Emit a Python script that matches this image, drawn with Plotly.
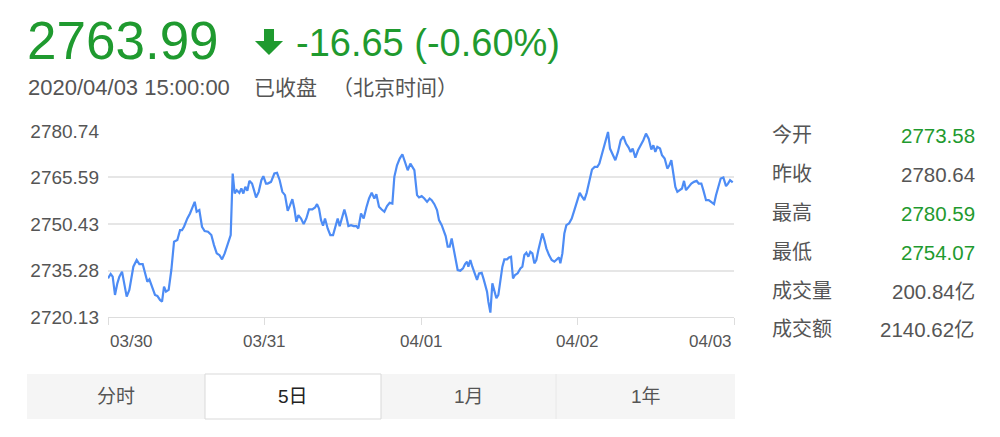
import plotly.graph_objects as go

# ── Data ───────────────────────────────────────────────────────────────────
# trading minutes across the 5-day window (240 per session) and index level
MINUTES = [
    0, 5.1, 9.0, 13.4, 17.9, 21.8, 26.9, 30.7, 35.8, 40.9,
    48.6, 55.0, 60.1, 66.5, 72.9, 75.4, 79.3, 85.7, 90.1, 94.6,
    99.7, 103.6, 107.4, 111.2, 116.3, 121.4, 126.6, 132.9, 138.1, 141.9,
    145.7, 152.1, 157.2, 162.3, 166.2, 170.0, 175.1, 180.2, 185.3, 191.7,
    198.1, 203.2, 208.4, 213.5, 218.6, 223.7, 230.1, 235.2, 239.0, 242.9,
    246.7, 251.8, 255.6, 259.5, 263.3, 267.1, 271.0, 276.1, 279.9, 283.8,
    288.9, 294.0, 297.8, 302.9,
    306.1, 312.5, 318.9, 324.0, 329.1, 334.2, 339.3, 344.5, 348.3, 353.4,
    357.2, 361.1, 364.9, 370.0, 375.1, 380.2, 385.3, 391.7, 396.9, 400.7,
    404.5, 408.4, 412.2, 416.0, 421.1, 426.2, 431.4, 435.2, 440.3, 444.1,
    449.2, 453.1, 456.9, 460.8, 465.9, 471.0, 476.1, 479.9, 485.0, 490.1,
    495.3, 500.4, 505.5, 510.6, 514.4, 519.5, 524.7, 529.8, 534.9, 540.0,
    545.1, 548.9, 554.0, 559.2, 564.3, 569.4, 574.5, 579.6, 583.4, 587.3,
    592.4, 596.2, 601.3, 606.4, 611.6,
    616.6, 620.5, 625.6, 630.7, 634.5, 639.7, 643.5, 647.3, 651.2, 655.0,
    658.8, 662.7, 666.5, 670.3, 675.4, 680.5, 684.4, 688.2, 690.8, 694.6,
    698.4, 702.3, 707.4, 711.2, 716.3, 720.2, 724.0, 726.6, 729.1, 733.0,
    736.8, 740.6, 744.5, 748.3, 752.1, 756.0, 759.8, 764.9, 768.7, 772.6,
    776.4, 780.2, 785.3, 790.5, 794.3, 798.1, 802.0, 805.8, 809.6, 813.5,
    817.3, 821.1, 825.0, 828.8, 832.6, 836.5, 840.3, 845.4, 850.5, 855.6,
    860.7, 864.6, 867.1, 871.0, 874.8, 878.6, 883.7, 888.9, 894.0, 899.1,
    904.2, 908.0, 913.1,
    917.6, 922.7, 927.8, 932.9, 938.0, 941.9, 947.0, 952.1, 955.9, 958.5,
    962.3, 967.4, 972.5, 977.6, 982.8, 987.9, 993.0, 998.1, 1001.9, 1005.8,
    1010.9, 1016.0, 1021.1, 1026.2, 1031.3, 1036.4, 1041.5, 1045.4, 1049.2, 1053.0,
    1058.2, 1062.0, 1067.1, 1072.2, 1076.1, 1079.9, 1083.7, 1087.6, 1091.4, 1096.5,
    1100.3, 1104.2, 1108.0, 1113.1, 1118.2, 1123.3, 1128.4, 1132.3, 1137.4, 1141.2,
    1146.4, 1151.5, 1156.6, 1161.7, 1165.5, 1170.6, 1174.5, 1179.6, 1184.7, 1188.5,
    1192.4, 1197.5,
]

PRICES = [
    2732.73, 2734.14, 2733.27, 2727.31, 2731.10, 2733.27, 2734.90, 2731.10, 2726.77, 2728.94,
    2736.52, 2738.69, 2737.39, 2737.39, 2733.27, 2731.65, 2732.40, 2729.48, 2727.31, 2726.98,
    2725.68, 2725.14, 2730.02, 2728.39, 2728.94, 2735.44, 2744.65, 2745.20, 2748.45, 2748.45,
    2749.53, 2752.24, 2753.87, 2756.04, 2757.66, 2754.41, 2754.95, 2749.53, 2748.12, 2747.91,
    2746.82, 2743.57, 2740.86, 2740.32, 2738.91, 2740.86, 2744.65, 2746.82, 2766.88, 2760.37,
    2761.46, 2760.59, 2762.00, 2760.37, 2762.54, 2761.24, 2764.49, 2763.62, 2761.46, 2759.07,
    2760.91, 2764.71, 2766.01, 2763.62,
    2763.62, 2764.17, 2766.88, 2767.09, 2764.71, 2760.91, 2759.83, 2754.74, 2756.25, 2758.53,
    2755.49, 2751.16, 2753.33, 2752.24, 2750.40, 2752.24, 2755.17, 2755.17, 2755.82, 2756.90,
    2755.49, 2751.70, 2749.86, 2752.24, 2748.99, 2746.82, 2746.82, 2748.99, 2752.24, 2749.75,
    2752.78, 2755.17, 2752.78, 2749.75, 2750.07, 2749.75, 2749.75, 2748.99, 2753.87, 2752.24,
    2755.82, 2758.75, 2760.59, 2758.75, 2760.16, 2756.04, 2755.17, 2754.41, 2756.25, 2757.34,
    2757.12, 2765.79, 2769.59, 2771.75, 2773.16, 2770.13, 2767.96, 2770.13, 2769.26, 2767.96,
    2759.83, 2759.07, 2759.50, 2758.75, 2757.66,
    2758.75, 2758.20, 2756.90, 2754.95, 2751.70, 2750.07, 2747.91, 2746.50, 2743.03, 2743.03,
    2745.74, 2742.49, 2738.69, 2735.44, 2735.22, 2735.98, 2737.39, 2738.15, 2736.52, 2738.69,
    2736.52, 2734.90, 2732.19, 2734.36, 2734.57, 2732.40, 2729.48, 2728.39, 2725.14, 2721.56,
    2731.10, 2728.94, 2726.23, 2727.31, 2732.19, 2736.52, 2738.91, 2738.91, 2739.56, 2739.78,
    2732.73, 2733.81, 2734.36, 2735.98, 2736.52, 2740.32, 2741.08, 2739.78, 2741.40, 2740.86,
    2737.61, 2738.69, 2741.94, 2745.20, 2747.36, 2745.20, 2742.49, 2740.32, 2738.69, 2738.15,
    2738.91, 2739.56, 2737.61, 2740.86, 2747.36, 2750.07, 2750.62, 2752.24, 2754.95, 2757.66,
    2760.59, 2759.50, 2758.20,
    2760.59, 2764.71, 2768.18, 2769.04, 2769.04, 2770.13, 2773.38, 2775.76, 2778.26, 2780.43,
    2775.01, 2772.84, 2771.21, 2773.92, 2777.72, 2779.02, 2776.63, 2775.33, 2773.92, 2775.01,
    2772.08, 2774.46, 2776.09, 2777.72, 2779.88, 2778.26, 2774.68, 2776.09, 2773.92, 2775.55,
    2775.01, 2772.84, 2771.75, 2768.50, 2769.59, 2771.21, 2766.88, 2762.54, 2760.91, 2761.46,
    2762.00, 2764.49, 2761.46, 2762.54, 2763.62, 2764.17, 2764.49, 2763.62, 2763.62, 2761.46,
    2758.20, 2758.20, 2757.66, 2756.90, 2759.83, 2762.54, 2765.25, 2765.58, 2762.76, 2763.62,
    2764.71, 2763.99,
]
assert len(MINUTES) == len(PRICES)

Y_TICKS = [2720.13, 2735.28, 2750.43, 2765.59, 2780.74]
X_TICKS = [0, 300, 600, 900, 1200]
X_LABELS = ["03/30", "03/31", "04/01", "04/02", "04/03"]

LAST_PRICE = "2763.99"
CHANGE_TEXT = "-16.65 (-0.60%)"
TIMESTAMP = "2020/04/03 15:00:00"
STATUS = "已收盘"
TIMEZONE = "（北京时间）"

STAT_LABELS = ["今开", "昨收", "最高", "最低", "成交量", "成交额"]
STAT_VALUES = ["2773.58", "2780.64", "2780.59", "2754.07", "200.84亿", "2140.62亿"]
STAT_GREEN = [True, False, True, True, False, False]

TABS = ["分时", "5日", "1月", "1年"]
ACTIVE_TAB = 1

# ── Style ──────────────────────────────────────────────────────────────────
FONT = "Liberation Sans, Arial, Noto Sans CJK SC, sans-serif"
GREEN = "#1f9a2f"
TEXT = "#555555"
LINE = "#4d8cf5"
GRID = "#e6e6e6"

# plot box in page pixels
L, R, T, B = 108, 734, 131, 317


def fx(x):
    return (x - L) / (R - L)


def fy(y):
    return (B - y) / (B - T)


fig = go.Figure()
fig.add_trace(go.Scatter(
    x=MINUTES, y=PRICES, mode="lines",
    line=dict(color=LINE, width=2.2), hoverinfo="skip",
))

ann = []

# header
ann.append(dict(x=fx(25), y=fy(40), text=LAST_PRICE, xanchor="left", yanchor="middle",
                font=dict(size=53, color=GREEN)))
ann.append(dict(x=fx(294), y=fy(43), text=CHANGE_TEXT, xanchor="left", yanchor="middle",
                font=dict(size=38, color=GREEN)))
ann.append(dict(x=fx(26), y=fy(87), text=TIMESTAMP, xanchor="left", yanchor="middle",
                font=dict(size=22, color=TEXT)))
ann.append(dict(x=fx(252), y=fy(87), text=STATUS, xanchor="left", yanchor="middle",
                font=dict(size=21, color=TEXT)))
ann.append(dict(x=fx(330), y=fy(87), text=TIMEZONE, xanchor="left", yanchor="middle",
                font=dict(size=21, color=TEXT)))

# x labels (edge ones kept inside the plot box)
for i, (v, lab) in enumerate(zip(X_TICKS, X_LABELS)):
    anchor = "left" if i == 0 else ("right" if i == len(X_TICKS) - 1 else "center")
    ann.append(dict(x=v, xref="x", y=0, yref="paper", yshift=-24, text=lab,
                    xanchor=anchor, yanchor="middle", font=dict(size=17, color=TEXT)))

# stats panel
row_y = [135, 174, 213, 252, 291, 329]
for lab, val, g, ry in zip(STAT_LABELS, STAT_VALUES, STAT_GREEN, row_y):
    ann.append(dict(x=fx(770), y=fy(ry), text=lab, xanchor="left", yanchor="middle",
                    font=dict(size=20, color=TEXT)))
    ann.append(dict(x=fx(977), y=fy(ry), text=val, xanchor="right", yanchor="middle",
                    font=dict(size=20.5, color=GREEN if g else TEXT)))

# tab bar
edges = [27, 205, 381, 556, 735]
shapes = [dict(type="rect", xref="paper", yref="paper", x0=fx(edges[0]), x1=fx(edges[-1]),
               y0=fy(419), y1=fy(374), fillcolor="#f5f5f5", line=dict(width=0), layer="below")]
shapes.append(dict(type="line", xref="paper", yref="paper", x0=fx(556), x1=fx(556),
                   y0=fy(419), y1=fy(374), line=dict(color="#e8e8e8", width=1)))
shapes.append(dict(type="rect", xref="paper", yref="paper",
                   x0=fx(edges[ACTIVE_TAB]), x1=fx(edges[ACTIVE_TAB + 1]),
                   y0=fy(419), y1=fy(374), fillcolor="#ffffff",
                   line=dict(color="#d9d9d9", width=1)))
for i, tab in enumerate(TABS):
    cx = (edges[i] + edges[i + 1]) / 2
    ann.append(dict(x=fx(cx), y=fy(396), text=tab, xanchor="center", yanchor="middle",
                    font=dict(size=19, color="#222222" if i == ACTIVE_TAB else TEXT)))

# down arrow next to the change
arrow = [(264, 29), (274, 29), (274, 41), (283, 41), (269, 55), (255, 41), (264, 41)]
path = "M " + " L ".join(f"{fx(a):.4f},{fy(b):.4f}" for a, b in arrow) + " Z"
shapes.append(dict(type="path", xref="paper", yref="paper", path=path,
                   fillcolor=GREEN, line=dict(width=0)))

for a in ann:
    a.setdefault("xref", "paper")
    a.setdefault("yref", "paper")
    a["showarrow"] = False

fig.update_layout(
    width=1000, height=437,
    margin=dict(l=L, r=1000 - R, t=T, b=437 - B),
    paper_bgcolor="#ffffff", plot_bgcolor="#ffffff",
    font=dict(family=FONT, color=TEXT),
    showlegend=False,
    annotations=ann, shapes=shapes,
    xaxis=dict(range=[0, 1200], tickvals=X_TICKS, showticklabels=False,
               ticks="outside", ticklen=7, tickcolor="#dddddd", tickwidth=1,
               showline=True, linecolor="#dddddd", linewidth=1,
               showgrid=False, zeroline=False, fixedrange=True),
    yaxis=dict(range=[Y_TICKS[0], Y_TICKS[-1]], tickvals=Y_TICKS,
               ticktext=[f"{v:.2f}" for v in Y_TICKS],
               tickfont=dict(size=19, color=TEXT), ticklabelstandoff=8,
               showgrid=True, gridcolor=GRID, gridwidth=1.5,
               zeroline=False, showline=False, fixedrange=True),
)

fig.write_html("out.html", config={"displayModeBar": False},
               post_script="document.body.style.margin='0';")
